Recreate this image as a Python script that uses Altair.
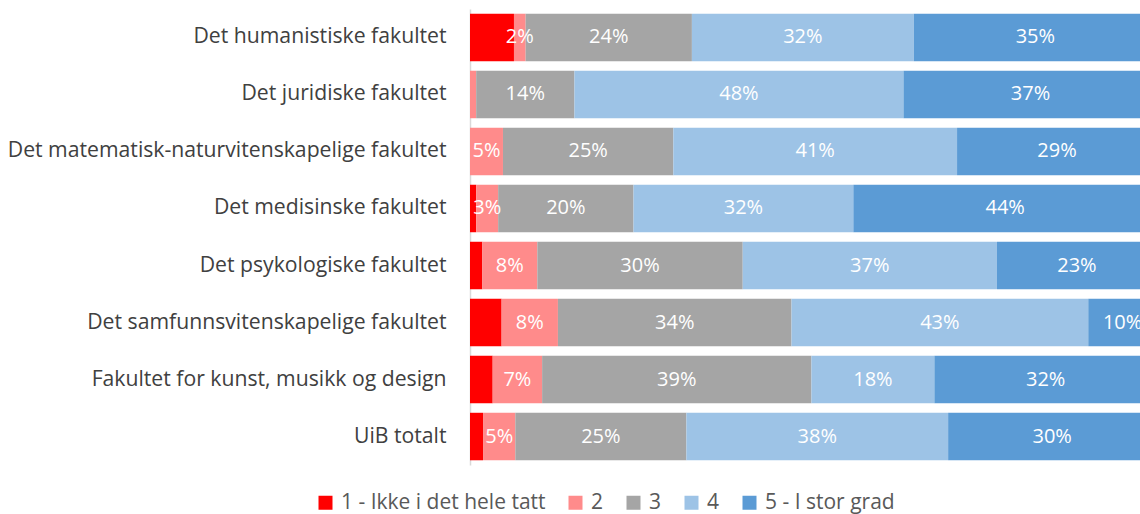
import altair as alt
import pandas as pd

# Faculties (top to bottom) and the share (%) answering each level
faculties = [
    "Det humanistiske fakultet",
    "Det juridiske fakultet",
    "Det matematisk-naturvitenskapelige fakultet",
    "Det medisinske fakultet",
    "Det psykologiske fakultet",
    "Det samfunnsvitenskapelige fakultet",
    "Fakultet for kunst, musikk og design",
    "UiB totalt",
]
levels = ["1 - Ikke i det hele tatt", "2", "3", "4", "5 - I stor grad"]
level_colors = ["#FF0000", "#FF8B8B", "#A5A5A5", "#9DC3E6", "#5B9BD5"]

share_1 = [6.4, 0.0, 0.0, 0.9, 1.8, 4.6, 3.3, 1.9]
share_2 = [1.7, 0.9, 4.8, 3.2, 8.0, 8.2, 7.2, 4.7]
share_3 = [24.2, 14.3, 24.8, 19.7, 29.9, 34.0, 39.2, 24.9]
share_4 = [32.3, 47.9, 41.3, 32.0, 37.0, 43.2, 17.9, 38.1]
share_5 = [35.4, 37.0, 29.1, 44.2, 23.3, 10.0, 32.4, 30.3]
shares = [share_1, share_2, share_3, share_4, share_5]

rows = []
for li, (lvl, vals) in enumerate(zip(levels, shares)):
    for fac, v in zip(faculties, vals):
        rows.append({"fakultet": fac, "niva": lvl, "rekke": li + 1, "andel": v})
df = pd.DataFrame(rows)

FONT = "Open Sans"
x_scale = alt.Scale(domain=[0, 97.53], nice=False, zero=True)

base = alt.Chart(df).transform_stack(
    stack="andel",
    groupby=["fakultet"],
    sort=[alt.SortField("rekke", order="ascending")],
    as_=["x0", "x1"],
).transform_calculate(mid="(datum.x0 + datum.x1) / 2")

bars = base.mark_bar(clip=True, size=47.5).encode(
    y=alt.Y(
        "fakultet:N",
        sort=faculties,
        title=None,
        scale=alt.Scale(paddingInner=0.167, paddingOuter=0.083),
        axis=alt.Axis(
            ticks=False,
            domain=True,
            domainColor="#D9D9D9",
            domainWidth=1.5,
            labelFont=FONT,
            labelFontSize=21.2,
            labelColor="#404040",
            labelPadding=24,
            labelLimit=500,
        ),
    ),
    x=alt.X("x0:Q", scale=x_scale, axis=None),
    x2="x1:Q",
    color=alt.Color(
        "niva:N",
        scale=alt.Scale(domain=levels, range=level_colors),
        legend=alt.Legend(
            title=None,
            orient="none",
            legendX=-155,
            legendY=483,
            direction="horizontal",
            symbolType="square",
            symbolSize=196,
            symbolStrokeWidth=0,
            labelFont=FONT,
            labelFontSize=21,
            labelColor="#595959",
            labelOffset=5,
            labelLimit=400,
            columnPadding=19,
        ),
    ),
    order=alt.Order("rekke:Q"),
)

labels = base.transform_filter(
    "datum.rekke > 1 && datum.andel >= 1.5"
).transform_calculate(
    tekst="format(round(datum.andel), 'd') + '%'"
).mark_text(
    clip=True, color="white", font=FONT, fontSize=20, baseline="middle", align="center"
).encode(
    y=alt.Y("fakultet:N", sort=faculties),
    x=alt.X("mid:Q", scale=x_scale),
    text="tekst:N",
)

chart = (
    alt.layer(bars, labels)
    .properties(
        width=670,
        height=456,
        autosize=alt.AutoSizeParams(type="none"),
        padding={"left": 470, "top": 9, "right": 0, "bottom": 49},
        background="white",
    )
    .configure_view(stroke=None)
)

chart.save("out.html", embed_options={"renderer": "svg", "actions": False})
